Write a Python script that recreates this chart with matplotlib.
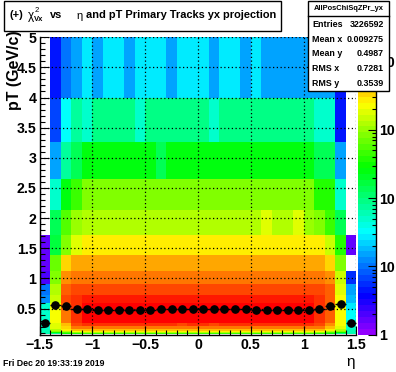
import colorsys
import numpy as np
import matplotlib
matplotlib.use("Agg")
import matplotlib.pyplot as plt
from matplotlib.colors import ListedColormap, LogNorm
from matplotlib.patches import Rectangle
from matplotlib.lines import Line2D
from matplotlib.ticker import FixedLocator, FixedFormatter, MultipleLocator, LogLocator, NullFormatter

W, H, DPI = 396, 372, 100
FONT = "Liberation Sans"
plt.rcParams["font.family"] = [FONT, "DejaVu Sans"]
plt.rcParams["font.weight"] = "bold"

# ---------------- data ----------------
eta_edges = np.round(np.linspace(-1.5, 1.5, 31), 2)
pt_edges = [0.072, 0.089, 0.110, 0.136, 0.167, 0.207, 0.255, 0.315, 0.389, 0.481,
            0.594, 0.733, 0.90, 1.12, 1.39, 1.72, 2.14, 2.65, 3.26, 4.0, 5.0]

# counts per (pT row, eta column); rows from low pT to high pT
counts = [
    [61, 90, 300, 370, 450, 450, 450, 450, 450, 450, 450, 450, 450, 450, 450, 450, 450, 450, 450, 450, 450, 450, 450, 450, 450, 450, 370, 246, 90, 61],
    [61, 300, 550, 1000, 1220, 1220, 1220, 1220, 1220, 1220, 1220, 1220, 1220, 1220, 1220, 1220, 1220, 1220, 1220, 1220, 1220, 1220, 1220, 1220, 1220, 1220, 1000, 550, 300, 61],
    [61, 820, 1220, 2220, 2720, 2720, 2720, 2720, 2720, 2720, 2720, 2720, 2720, 2720, 2720, 2720, 2720, 2720, 2720, 2720, 2720, 2720, 2720, 2720, 2720, 2720, 2220, 1220, 820, 61],
    [61, 1220, 2720, 4060, 4060, 4060, 4060, 4060, 4060, 4060, 4060, 4060, 4060, 4060, 4060, 4060, 4060, 4060, 4060, 4060, 4060, 4060, 4060, 4060, 4060, 4060, 4060, 2720, 1220, 61],
    [50, 1820, 3320, 7400, 7400, 7400, 7400, 7400, 7400, 7400, 7400, 7400, 7400, 7400, 7400, 7400, 7400, 7400, 7400, 7400, 7400, 7400, 7400, 7400, 7400, 7400, 7400, 4060, 1820, 50],
    [50, 1820, 4060, 11000, 13400, 13400, 13400, 13400, 13400, 13400, 13400, 13400, 13400, 11000, 13400, 13400, 11000, 13400, 13400, 13400, 13400, 13400, 13400, 13400, 13400, 13400, 11000, 6050, 2220, 50],
    [50, 2220, 7400, 13400, 20000, 20000, 20000, 20000, 20000, 20000, 20000, 20000, 20000, 20000, 20000, 20000, 20000, 20000, 20000, 20000, 20000, 20000, 20000, 20000, 20000, 20000, 13400, 9000, 2220, 50],
    [50, 2220, 7400, 13400, 20000, 20000, 20000, 20000, 20000, 20000, 20000, 20000, 20000, 20000, 20000, 20000, 20000, 20000, 20000, 20000, 20000, 20000, 20000, 20000, 20000, 20000, 13400, 9000, 2220, 33],
    [50, 2220, 7400, 13400, 20000, 20000, 20000, 20000, 20000, 20000, 20000, 20000, 20000, 20000, 20000, 20000, 20000, 20000, 20000, 20000, 20000, 20000, 20000, 20000, 20000, 20000, 13400, 9000, 2220, 33],
    [50, 2220, 9000, 13400, 20000, 20000, 20000, 20000, 20000, 20000, 20000, 20000, 20000, 20000, 20000, 20000, 20000, 20000, 20000, 20000, 20000, 20000, 20000, 20000, 20000, 20000, 13400, 9000, 2220, 27],
    [12, 1490, 11000, 13400, 16400, 16400, 16400, 16400, 16400, 16400, 16400, 16400, 16400, 16400, 16400, 16400, 16400, 16400, 16400, 16400, 16400, 16400, 16400, 16400, 16400, 16400, 13400, 9000, 2220, 18],
    [10, 1220, 9000, 11000, 11000, 11000, 11000, 11000, 11000, 11000, 11000, 11000, 11000, 11000, 11000, 11000, 11000, 11000, 11000, 11000, 11000, 11000, 11000, 11000, 11000, 11000, 11000, 9000, 1820, 15],
    [2.0, 820, 6050, 7400, 7400, 7400, 7400, 7400, 7400, 7400, 7400, 7400, 7400, 7400, 7400, 7400, 7400, 7400, 7400, 7400, 7400, 7400, 7400, 7400, 7400, 7400, 7400, 6050, 1490, 5.5],
    [1.6, 670, 3320, 4950, 4950, 4950, 4950, 4950, 4950, 4950, 4950, 4950, 4950, 4950, 4950, 4950, 4950, 4950, 4950, 4950, 4950, 4950, 4950, 4950, 4950, 4950, 4950, 3320, 820, 0],
    [1.6, 165, 820, 1820, 2720, 2720, 2720, 2720, 2720, 2720, 2720, 2720, 2720, 2720, 2720, 2720, 2720, 2720, 2720, 2720, 2720, 2720, 2720, 2720, 2720, 2720, 2720, 1490, 370, 1.6],
    [0, 136, 550, 1000, 1220, 1220, 1220, 1220, 1220, 1220, 1220, 1220, 1220, 1220, 1220, 1220, 1220, 1220, 1220, 1220, 1220, 1820, 1220, 1220, 1820, 1000, 820, 450, 136, 0],
    [0, 50, 246, 450, 820, 820, 820, 820, 820, 820, 820, 820, 820, 820, 820, 820, 820, 820, 820, 820, 820, 820, 820, 820, 820, 820, 370, 370, 50, 0],
    [0, 15, 75, 136, 246, 246, 246, 246, 246, 246, 246, 136, 246, 246, 246, 246, 246, 246, 246, 246, 246, 246, 246, 246, 246, 246, 136, 136, 15, 0],
    [0, 6.7, 33, 75, 50, 90, 90, 90, 90, 50, 90, 90, 90, 90, 90, 90, 50, 90, 90, 90, 90, 90, 90, 90, 90, 90, 50, 50, 4.5, 0],
    [0, 4.5, 10, 15, 27, 15, 27, 27, 15, 27, 27, 27, 15, 27, 27, 27, 15, 27, 27, 15, 27, 15, 15, 15, 15, 15, 15, 15, 4.5, 0],
]

# profile (mean pT per eta bin)
prof_pt = [0.267, 0.567, 0.538, 0.50, 0.50, 0.483, 0.483, 0.483, 0.483, 0.483,
           0.483, 0.495, 0.50, 0.50, 0.495, 0.50, 0.495, 0.495, 0.495, 0.495,
           0.483, 0.483, 0.483, 0.483, 0.483, 0.483, 0.495, 0.55, 0.583, 0.267]

x_ticks = [-1.5, -1.0, -0.5, 0.0, 0.5, 1.0, 1.5]
x_tick_labels = ["\u22121.5", "\u22121", "\u22120.5", "0", "0.5", "1", "1.5"]
y_ticks = [0.5, 1, 1.5, 2, 2.5, 3, 3.5, 4, 4.5, 5]
y_tick_labels = ["0.5", "1", "1.5", "2", "2.5", "3", "3.5", "4", "4.5", "5"]
z_ticks = [1, 10, 100, 1000, 10000]
z_tick_labels = ["1", "10", "10", "10", "10"]

stats_title = "AllPosChiSqZPr_yx"
stats_names = ["Entries", "Mean x", "Mean y", "RMS x", "RMS y"]
stats_values = ["3226592", "0.009275", "0.4987", "0.7281", "0.3539"]
date_text = "Fri Dec 20 19:33:19 2019"

# ---------------- ROOT "pretty" palette ----------------
pal = [colorsys.hls_to_rgb((280.0 - (i + 1) * 5.6) / 360.0, 0.5, 1.0) for i in range(50)]
cmap = ListedColormap(pal)
cmap.set_bad("white")
norm = LogNorm(vmin=1.0, vmax=22750.0)

fig = plt.figure(figsize=(W / DPI, H / DPI), dpi=DPI)
fig.patch.set_facecolor("white")


def fx(px):
    return px / W


def fy(py):
    return 1.0 - py / H


ax = fig.add_axes([0.1, 0.1, 0.8, 0.8])
Z = np.ma.masked_less_equal(np.array(counts, dtype=float), 0)
mesh = ax.pcolormesh(eta_edges, pt_edges, Z, cmap=cmap, norm=norm,
                     antialiased=False, linewidth=0, zorder=1)
ax.set_xlim(-1.5, 1.5)
ax.set_ylim(0.065, 5.0)

ax.xaxis.set_major_locator(FixedLocator(x_ticks))
ax.xaxis.set_major_formatter(FixedFormatter(x_tick_labels))
ax.yaxis.set_major_locator(FixedLocator(y_ticks))
ax.yaxis.set_major_formatter(FixedFormatter(y_tick_labels))
ax.xaxis.set_minor_locator(MultipleLocator(0.1))
ax.yaxis.set_minor_locator(MultipleLocator(0.1))
ax.tick_params(which="major", direction="in", length=6.5, width=0.8,
               top=False, right=False, labelsize=10.2)
ax.tick_params(axis="x", which="major", pad=2.0)
ax.tick_params(axis="y", which="major", pad=2.3)
ax.tick_params(which="minor", direction="in", length=3.3, width=0.8,
               top=False, right=False)
for lab in ax.get_xticklabels() + ax.get_yticklabels():
    lab.set_fontweight("bold")
for s in ["top", "right"]:
    ax.spines[s].set_visible(False)
for s in ["left", "bottom"]:
    ax.spines[s].set_linewidth(1.0)
    ax.spines[s].set_zorder(5)

ax.set_axisbelow(False)
ax.grid(True, which="major", linestyle=(0, (1, 2)), color="black", linewidth=0.9, zorder=3)

eta_c = 0.5 * (eta_edges[:-1] + eta_edges[1:])
ax.errorbar(eta_c, prof_pt, xerr=0.05, fmt="o", color="black", ms=5.2,
            elinewidth=1.0, capsize=0, zorder=4, clip_on=False)

# colour bar
cax = fig.add_axes([0.905, 0.1, 0.045, 0.8])
cb = fig.colorbar(mesh, cax=cax)
cb.outline.set_visible(False)
cax.yaxis.set_major_locator(FixedLocator(z_ticks))
cax.yaxis.set_major_formatter(FixedFormatter(z_tick_labels))
cax.yaxis.set_minor_locator(LogLocator(base=10, subs=np.arange(2, 10)))
cax.yaxis.set_minor_formatter(NullFormatter())
cax.tick_params(which="major", direction="in", length=6.0, width=0.8,
                left=False, right=True, labelright=True, labelsize=10.2, pad=2)
cax.tick_params(which="minor", direction="in", length=3.0, width=0.8,
                left=False, right=True)
for lab in cax.get_yticklabels():
    lab.set_fontweight("bold")
fig.add_artist(Line2D([fx(376.2), fx(376.2)], [fy(37.2), fy(334.8)],
                      color="black", lw=1.0, transform=fig.transFigure, zorder=2))

# axis titles
fig.text(fx(15), fy(30), "pT (GeV/c)", rotation=90, ha="center", va="top",
         fontsize=11.5, fontweight="bold")
fig.text(fx(351), fy(362), "\u03b7", ha="center", va="center",
         fontsize=11, fontweight="normal")

# title box
fig.add_artist(Rectangle((fx(4), fy(31)), 277 / W, 30 / H, transform=fig.transFigure,
                         facecolor="white", edgecolor="black", lw=1.0, zorder=5))
ty = 15
fig.text(fx(9), fy(ty), "(+)", ha="left", va="center", fontsize=7.9, fontweight="bold", zorder=6)
fig.text(fx(28), fy(ty + 1), "\u03c7", ha="left", va="center", fontsize=8.5, fontweight="normal", zorder=6)
fig.text(fx(35), fy(ty - 4), "2", ha="left", va="center", fontsize=5.5, fontweight="normal", zorder=6)
fig.text(fx(34), fy(ty + 4.5), "Vx", ha="left", va="center", fontsize=5.5, fontweight="bold", zorder=6)
fig.text(fx(50), fy(ty), "vs", ha="left", va="center", fontsize=7.9, fontweight="bold", zorder=6)
fig.text(fx(76), fy(ty + 1), "\u03b7", ha="left", va="center", fontsize=8.0, fontweight="normal", zorder=6)
fig.text(fx(86), fy(ty), "and pT Primary Tracks yx projection", ha="left", va="center",
         fontsize=7.9, fontweight="bold", zorder=6)

# stats box
sx0, sx1, sy0, sy1 = 308, 389, 1, 91
fig.add_artist(Rectangle((fx(sx0), fy(sy1)), (sx1 - sx0) / W, (sy1 - sy0) / H,
                         transform=fig.transFigure, facecolor="white",
                         edgecolor="black", lw=1.0, zorder=5))
fig.add_artist(Line2D([fx(sx0), fx(sx1)], [fy(16), fy(16)], color="black", lw=1.0,
                      transform=fig.transFigure, zorder=6))
fig.text(fx(348.5), fy(9), stats_title, ha="center", va="center", fontsize=5.4,
         fontweight="bold", zorder=6)
row_y = [24.7, 39.5, 53.5, 68.5, 83]
for nm, val, yy in zip(stats_names, stats_values, row_y):
    fig.text(fx(312), fy(yy), nm, ha="left", va="center", fontsize=6.4, fontweight="bold", zorder=6)
    fig.text(fx(384), fy(yy), val, ha="right", va="center", fontsize=6.4, fontweight="bold", zorder=6)

# date
fig.text(fx(3), fy(364), date_text, ha="left", va="center", fontsize=6.3, fontweight="bold")

fig.savefig("out.png", dpi=DPI)
